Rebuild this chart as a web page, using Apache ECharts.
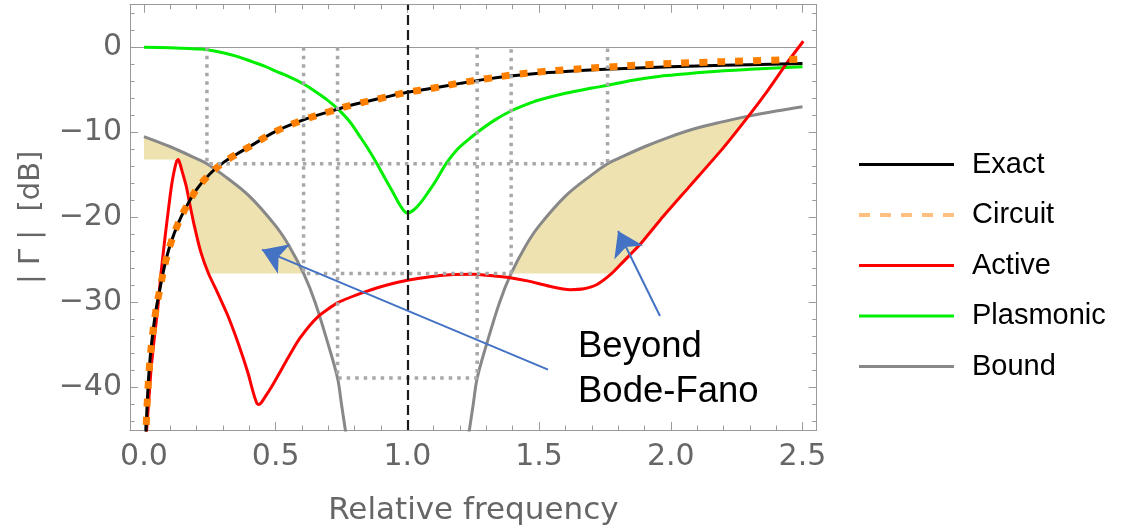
<!DOCTYPE html>
<html>
<head>
<meta charset="utf-8">
<script src="https://cdn.jsdelivr.net/npm/echarts@6/dist/echarts.min.js"></script>
<style>
  html, body { margin: 0; padding: 0; background: #fff; }
  #chart { width: 1125px; height: 531px; }
</style>
</head>
<body>
<div id="chart"></div>
<script>
// Reflection magnitude |Γ| in dB versus relative frequency

const exactCurve = [
  [0.006, -46.5], [0.012, -42.0], [0.02, -37.8], [0.03, -34.5], [0.045, -31.0],
  [0.06, -28.5], [0.08, -25.5], [0.1, -23.2], [0.13, -20.7], [0.16, -18.8],
  [0.2, -16.7], [0.25, -14.9], [0.3, -13.6], [0.35, -12.6], [0.4, -11.7],
  [0.5, -9.9], [0.6, -8.6], [0.7, -7.6], [0.8, -6.7], [0.9, -6.0],
  [1.0, -5.3], [1.1, -4.8], [1.2, -4.25], [1.3, -3.75], [1.4, -3.35],
  [1.5, -3.05], [1.6, -2.85], [1.75, -2.6], [1.9, -2.4], [2.1, -2.2],
  [2.3, -2.05], [2.5, -1.9]
];

const circuitCurve = [
  [0.006, -46.5], [0.012, -42.0], [0.02, -37.8], [0.03, -34.5], [0.045, -31.0],
  [0.06, -28.5], [0.08, -25.5], [0.1, -23.2], [0.13, -20.7], [0.16, -18.8],
  [0.2, -16.7], [0.25, -14.9], [0.3, -13.6], [0.35, -12.6], [0.4, -11.7],
  [0.5, -9.9], [0.6, -8.6], [0.7, -7.6], [0.8, -6.7], [0.9, -6.0],
  [1.0, -5.3], [1.1, -4.8], [1.2, -4.2], [1.3, -3.7], [1.4, -3.25],
  [1.5, -2.9], [1.6, -2.65], [1.75, -2.35], [1.9, -2.05], [2.1, -1.8],
  [2.3, -1.6], [2.5, -1.4]
];

const activeCurve = [
  [0.009, -45.5], [0.02, -40.8], [0.028, -37.5], [0.04, -34.0], [0.053, -30.5],
  [0.065, -26.5], [0.079, -22.6], [0.092, -19.3], [0.104, -16.4], [0.115, -14.5],
  [0.124, -13.4], [0.13, -13.2], [0.136, -13.6], [0.145, -14.6], [0.161, -16.4],
  [0.175, -18.6], [0.192, -21.1], [0.215, -24.0], [0.245, -26.6], [0.28, -28.9],
  [0.319, -31.6], [0.36, -35.0], [0.395, -38.3], [0.415, -40.6], [0.428, -41.8],
  [0.435, -42.0], [0.445, -41.8], [0.46, -41.1], [0.483, -40.0], [0.52, -38.0],
  [0.547, -36.5], [0.592, -34.2], [0.66, -31.7], [0.738, -30.0], [0.845, -28.7],
  [0.93, -27.9], [1.0, -27.4], [1.08, -27.0], [1.162, -26.75], [1.25, -26.7],
  [1.314, -26.85], [1.39, -27.1], [1.46, -27.5], [1.54, -28.1], [1.617, -28.5],
  [1.67, -28.4], [1.72, -27.9], [1.776, -26.6], [1.82, -25.2], [1.883, -23.2],
  [1.96, -20.3], [2.073, -16.3], [2.2, -11.8], [2.295, -8.1], [2.37, -5.0],
  [2.44, -1.9], [2.503, 0.7]
];

const plasmonicCurve = [
  [0.0, 0.0], [0.1, -0.05], [0.2, -0.2], [0.24, -0.3], [0.3, -0.65],
  [0.35, -1.05], [0.415, -1.75], [0.46, -2.25], [0.5, -2.8], [0.55, -3.45],
  [0.608, -4.35], [0.65, -5.2], [0.7, -6.3], [0.738, -7.3], [0.78, -8.7],
  [0.82, -10.5], [0.85, -11.9], [0.883, -13.6], [0.915, -15.4], [0.946, -17.1],
  [0.975, -18.7], [1.0, -19.5], [1.025, -19.1], [1.05, -18.3], [1.08, -17.0],
  [1.11, -15.6], [1.149, -13.6], [1.19, -12.0], [1.23, -10.9], [1.27, -9.9],
  [1.33, -8.6], [1.393, -7.5], [1.45, -6.75], [1.5, -6.2], [1.6, -5.4],
  [1.7, -4.8], [1.757, -4.5], [1.85, -3.9], [1.96, -3.4], [2.05, -3.15],
  [2.136, -2.9], [2.3, -2.6], [2.5, -2.3]
];

// Bode-Fano bound: two branches on either side of the centre frequency
const boundLow = [
  [0.0, -10.5], [0.1, -11.7], [0.2, -13.1], [0.239, -13.7], [0.3, -15.0],
  [0.4, -17.5], [0.5, -21.0], [0.55, -23.3], [0.606, -26.6], [0.65, -30.0],
  [0.7, -35.0], [0.735, -38.9], [0.75, -42.0], [0.767, -45.5]
];
const boundHigh = [
  [1.233, -45.5], [1.25, -42.0], [1.265, -38.9], [1.3, -35.0], [1.35, -30.0],
  [1.394, -26.6], [1.45, -23.3], [1.5, -21.0], [1.6, -17.5], [1.7, -15.0],
  [1.76, -13.7], [1.8, -13.1], [1.9, -11.7], [2.0, -10.5], [2.1, -9.5],
  [2.2, -8.75], [2.295, -8.1], [2.4, -7.5], [2.5, -7.0]
];

// Regions beyond the Bode-Fano limit
const shadeLow = [
  [0.0, -10.5], [0.1, -11.7], [0.2, -13.1], [0.239, -13.7], [0.3, -15.0],
  [0.4, -17.5], [0.5, -21.0], [0.55, -23.3], [0.606, -26.6], [0.245, -26.6],
  [0.215, -24.0], [0.192, -21.1], [0.175, -18.6], [0.161, -16.4], [0.145, -14.6],
  [0.136, -13.6], [0.13, -13.2], [0.0, -13.2]
];
const shadeHigh = [
  [1.394, -26.6], [1.45, -23.3], [1.5, -21.0], [1.6, -17.5], [1.7, -15.0],
  [1.76, -13.7], [1.8, -13.1], [1.9, -11.7], [2.0, -10.5], [2.1, -9.5],
  [2.2, -8.75], [2.295, -8.1], [2.2, -11.8], [2.073, -16.3], [1.96, -20.3],
  [1.883, -23.2], [1.82, -25.2], [1.776, -26.6]
];

// Band edges with their in-band reflection levels
const bandWide = [[0.239, 0], [0.239, -13.7], [1.76, -13.7], [1.76, 0]];
const bandMid = [[0.606, 0], [0.606, -26.6], [1.394, -26.6], [1.394, 0]];
const bandNarrow = [[0.735, 0], [0.735, -38.9], [1.265, -38.9], [1.265, 0]];

const centreFrequency = 1.0;
const arrowLeft = [[1.534, -37.9], [0.448, -23.8]];
const arrowRight = [[1.959, -31.6], [1.8, -21.6]];

const AXIS_FONT = "'DejaVu Sans', Verdana, sans-serif";
const NOTE_FONT = "'Liberation Sans', Arial, Helvetica, sans-serif";
const FRAME = '#9a9a9a';
const LABEL = '#666666';

const chart = echarts.init(document.getElementById('chart'), null, { renderer: 'canvas' });

function frameAxis(position, showLabel, extra) {
  return Object.assign({
    type: 'value',
    position: position,
    axisLine: { show: true, onZero: false, lineStyle: { color: FRAME, width: 1 } },
    axisTick: { show: true, inside: true, length: 8, lineStyle: { color: FRAME, width: 1 } },
    minorTick: { show: true, splitNumber: 5, length: 4.5, lineStyle: { color: FRAME, width: 1 } },
    splitLine: { show: false },
    axisLabel: { show: showLabel, showMinLabel: false, showMaxLabel: false,
      color: LABEL, fontSize: 30, fontFamily: AXIS_FONT }
  }, extra);
}

function polygonSeries(points) {
  return {
    type: 'custom',
    coordinateSystem: 'cartesian2d',
    silent: true,
    z: 1,
    clip: true,
    encode: { x: 0, y: 1 },
    data: points,
    renderItem: function (params, api) {
      if (params.dataIndex !== 0) return null;
      return {
        type: 'polygon',
        shape: { points: points.map(function (p) { return api.coord(p); }) },
        style: { fill: '#eee2b0' }
      };
    }
  };
}

function bandSeries(points) {
  return {
    type: 'line',
    data: points,
    symbol: 'none',
    silent: true,
    z: 8,
    lineStyle: { color: '#a8a8a8', width: 3.5, type: [3.5, 5], cap: 'butt' }
  };
}

function curve(name, data, color, width, z, extra) {
  return Object.assign({
    name: name,
    type: 'line',
    data: data,
    symbol: 'none',
    showSymbol: false,
    silent: true,
    z: z,
    smooth: 0.35,
    lineStyle: { color: color, width: width },
    itemStyle: { color: color }
  }, extra);
}

const option = {
  animation: false,
  backgroundColor: '#ffffff',
  grid: { left: 130, right: 308.3, top: 4.7, bottom: 101, containLabel: false },
  xAxis: [
    frameAxis('bottom', true, {
      min: -0.053, max: 2.554, minInterval: 0.5, maxInterval: 0.5, splitNumber: 5,
      name: 'Relative frequency', nameLocation: 'middle', nameGap: 65,
      nameTextStyle: { color: LABEL, fontSize: 31, fontFamily: AXIS_FONT },
      axisLabel: { show: true, showMinLabel: false, showMaxLabel: false, margin: 12,
        color: LABEL, fontSize: 30, fontFamily: AXIS_FONT,
        formatter: function (v) { return v.toFixed(1); } }
    }),
    frameAxis('top', false, { min: -0.053, max: 2.554, minInterval: 0.5, maxInterval: 0.5, splitNumber: 5 })
  ],
  yAxis: [
    frameAxis('left', true, {
      min: -45, max: 5, minInterval: 10, maxInterval: 10, splitNumber: 5,
      name: '| Γ |  [dB]', nameLocation: 'middle', nameGap: 84, nameRotate: 90,
      nameTextStyle: { color: LABEL, fontSize: 29, fontFamily: AXIS_FONT },
      axisLabel: { show: true, showMinLabel: false, showMaxLabel: false, margin: 8,
        color: LABEL, fontSize: 30, fontFamily: AXIS_FONT,
        formatter: function (v) { return v < 0 ? '\u2212' + Math.abs(v) : String(v); } }
    }),
    frameAxis('right', false, { min: -45, max: 5, minInterval: 10, maxInterval: 10, splitNumber: 5 })
  ],
  legend: {
    orient: 'vertical',
    left: 852,
    top: 145,
    itemWidth: 95,
    itemHeight: 14,
    itemGap: 21.5,
    selectedMode: false,
    itemStyle: { opacity: 0 },
    textStyle: { color: '#000', fontSize: 29, fontFamily: NOTE_FONT, padding: [0, 0, 0, 13] },
    data: [
      { name: 'Exact', lineStyle: { color: '#000', width: 3, type: 'solid' } },
      { name: 'Circuit', lineStyle: { color: '#ffbf80', width: 4, type: [11, 10] } },
      { name: 'Active', lineStyle: { color: '#ff0000', width: 3, type: 'solid' } },
      { name: 'Plasmonic', lineStyle: { color: '#00ee00', width: 3, type: 'solid' } },
      { name: 'Bound', lineStyle: { color: '#888888', width: 3, type: 'solid' } }
    ]
  },
  graphic: [{
    type: 'text',
    left: 578,
    top: 324,
    z: 20,
    style: {
      text: 'Beyond\nBode-Fano',
      fill: '#000',
      font: '36.5px ' + NOTE_FONT,
      lineHeight: 45
    }
  }],
  series: [
    polygonSeries(shadeLow),
    polygonSeries(shadeHigh),
    {
      type: 'line', data: [], silent: true, z: 1,
      markLine: {
        silent: true, symbol: ['none', 'none'], z: 1, animation: false,
        label: { show: false },
        lineStyle: { color: '#9a9a9a', width: 1, type: 'solid' },
        data: [{ yAxis: 0 }]
      }
    },
    curve('Bound', boundLow.concat([[1.0, null]], boundHigh), '#888888', 3, 3, { connectNulls: false }),
    curve('Plasmonic', plasmonicCurve, '#00ee00', 3, 4),
    curve('Active', activeCurve, '#ff0000', 3, 5, { smooth: 0.2 }),
    curve('Exact', exactCurve, '#000000', 3, 6),
    curve('Circuit', circuitCurve, '#ff8000', 7, 7, { lineStyle: { color: '#ff8000', width: 7, type: [8, 10], cap: 'butt' } }),
    bandSeries(bandWide),
    bandSeries(bandMid),
    bandSeries(bandNarrow),
    {
      type: 'line', data: [], silent: true, z: 9,
      markLine: {
        silent: true, animation: false, z: 9,
        symbol: ['none', 'none'],
        label: { show: false },
        data: [
          { xAxis: centreFrequency,
            lineStyle: { color: '#1a1a1a', width: 2.2, type: [10, 5] } },
          [
            { coord: arrowLeft[0], symbol: 'none', lineStyle: { color: '#4472c4', width: 2, type: 'solid' } },
            { coord: arrowLeft[1], symbol: 'arrow', symbolSize: 24 }
          ],
          [
            { coord: arrowRight[0], symbol: 'none', lineStyle: { color: '#4472c4', width: 2, type: 'solid' } },
            { coord: arrowRight[1], symbol: 'arrow', symbolSize: 24 }
          ]
        ],
        itemStyle: { color: '#4472c4' }
      }
    }
  ]
};

chart.setOption(option);
</script>
</body>
</html>
